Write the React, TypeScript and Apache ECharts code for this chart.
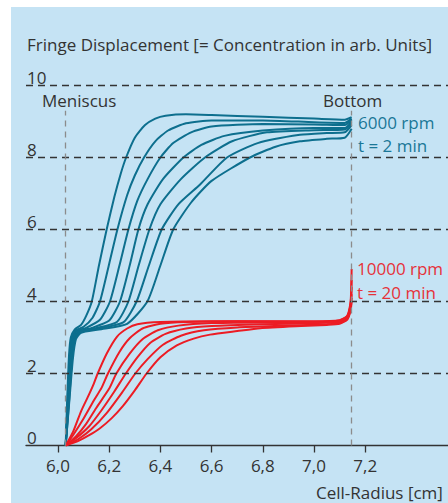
import React, { useEffect, useRef } from "react";
import * as echarts from "echarts";

const xTicks = [6.0, 6.2, 6.4, 6.6, 6.8, 7.0, 7.2];
const yGridValues = [2, 4, 6, 8, 10];
const yLabelValues = [0, 2, 4, 6, 8, 10];
const meniscusX = 6.027;
const bottomX = 7.147;
const markerTop = 9.3;

const teal1 = [[6.03,0],[6.036,1.3],[6.043,2.5],[6.05,3.0],[6.065,3.22],[6.09,3.35],[6.11,3.6],[6.132,4.0],[6.16,5.0],[6.19,6.0],[6.22,6.9],[6.245,7.55],[6.266,8.0],[6.3,8.55],[6.34,8.9],[6.38,9.08],[6.42,9.16],[6.5,9.2],[6.6,9.18],[6.8,9.13],[7.0,9.08],[7.12,9.05],[7.147,9.12]];
const teal2 = [[6.03,0],[6.038,1.3],[6.046,2.5],[6.054,3.0],[6.07,3.2],[6.1,3.3],[6.135,3.55],[6.164,4.0],[6.2,5.05],[6.232,6.0],[6.27,6.95],[6.3,7.5],[6.336,8.0],[6.38,8.45],[6.43,8.75],[6.5,8.95],[6.6,9.03],[6.8,9.03],[7.0,8.98],[7.12,8.96],[7.147,9.08]];
const teal3 = [[6.03,0],[6.039,1.3],[6.048,2.45],[6.057,2.98],[6.075,3.19],[6.11,3.27],[6.165,3.5],[6.203,4.0],[6.24,5.0],[6.275,6.0],[6.31,6.8],[6.35,7.4],[6.40,8.0],[6.45,8.4],[6.52,8.7],[6.6,8.86],[6.8,8.93],[7.0,8.92],[7.12,8.9],[7.147,9.05]];
const teal4 = [[6.03,0],[6.041,1.3],[6.05,2.45],[6.06,2.97],[6.08,3.17],[6.13,3.26],[6.2,3.47],[6.242,4.0],[6.28,5.0],[6.314,6.0],[6.35,6.7],[6.41,7.4],[6.49,8.0],[6.56,8.35],[6.65,8.6],[6.8,8.75],[7.0,8.82],[7.12,8.82],[7.147,9.0]];
const teal5 = [[6.03,0],[6.042,1.3],[6.052,2.42],[6.063,2.96],[6.082,3.16],[6.14,3.25],[6.23,3.43],[6.275,4.0],[6.315,5.0],[6.357,6.0],[6.4,6.7],[6.48,7.4],[6.574,8.0],[6.68,8.45],[6.816,8.7],[7.0,8.76],[7.12,8.78],[7.147,8.95]];
const teal6 = [[6.03,0],[6.044,1.3],[6.055,2.4],[6.066,2.95],[6.085,3.15],[6.15,3.24],[6.255,3.42],[6.307,4.0],[6.355,5.0],[6.405,6.0],[6.47,6.7],[6.555,7.25],[6.66,8.0],[6.78,8.4],[6.945,8.63],[7.05,8.68],[7.12,8.7],[7.147,8.9]];
const teal7 = [[6.03,0],[6.045,1.3],[6.058,2.4],[6.07,2.95],[6.09,3.13],[6.16,3.22],[6.27,3.38],[6.349,4.0],[6.4,5.0],[6.45,6.0],[6.52,6.75],[6.6,7.35],[6.75,8.0],[6.85,8.3],[6.945,8.45],[7.05,8.52],[7.12,8.55],[7.147,8.8]];

const red1 = [[6.03,0],[6.06,0.4],[6.09,0.95],[6.12,1.4],[6.14,1.72],[6.155,2.0],[6.19,2.55],[6.23,3.02],[6.27,3.25],[6.31,3.37],[6.4,3.43],[6.6,3.45],[6.8,3.45],[7.0,3.45],[7.1,3.48],[7.13,3.6],[7.143,4.0],[7.147,4.9]];
const red2 = [[6.03,0],[6.06,0.3],[6.1,0.75],[6.14,1.25],[6.17,1.6],[6.195,2.0],[6.24,2.6],[6.28,2.98],[6.33,3.25],[6.4,3.38],[6.5,3.43],[6.7,3.45],[7.0,3.44],[7.1,3.47],[7.13,3.6],[7.143,3.95],[7.147,4.6]];
const red3 = [[6.03,0],[6.07,0.25],[6.11,0.6],[6.15,1.05],[6.2,1.58],[6.228,2.0],[6.28,2.55],[6.33,2.95],[6.39,3.2],[6.47,3.33],[6.6,3.4],[6.8,3.42],[7.0,3.42],[7.1,3.45],[7.13,3.58],[7.143,3.9],[7.147,4.4]];
const red4 = [[6.03,0],[6.07,0.2],[6.12,0.52],[6.17,0.98],[6.22,1.5],[6.265,2.0],[6.31,2.45],[6.36,2.85],[6.42,3.1],[6.5,3.25],[6.6,3.32],[6.8,3.37],[7.0,3.4],[7.1,3.43],[7.13,3.55],[7.143,3.85],[7.147,4.2]];
const red5 = [[6.03,0],[6.08,0.18],[6.13,0.45],[6.19,0.9],[6.25,1.47],[6.302,2.0],[6.35,2.4],[6.41,2.8],[6.48,3.05],[6.57,3.2],[6.7,3.28],[6.9,3.33],[7.05,3.37],[7.1,3.4],[7.13,3.52],[7.143,3.8],[7.147,4.1]];
const red6 = [[6.03,0],[6.08,0.13],[6.12,0.28],[6.164,0.48],[6.21,0.76],[6.254,1.1],[6.3,1.53],[6.346,2.0],[6.4,2.45],[6.464,2.78],[6.53,2.97],[6.594,3.08],[6.7,3.18],[6.79,3.26],[6.95,3.32],[7.05,3.35],[7.1,3.38],[7.13,3.5],[7.143,3.75],[7.147,4.0]];

const tealCurves = [teal1, teal2, teal3, teal4, teal5, teal6, teal7];
const redCurves = [red1, red2, red3, red4, red5, red6];

const TEAL = "#0d6f8e";
const RED = "#ec1c24";
const TEXT = "#333333";
const FONT = "'Open Sans', sans-serif";
const FS = 17;

export default function App() {
  const ref = useRef<HTMLDivElement>(null);
  useEffect(() => {
    if (!ref.current) return;
    const chart = echarts.init(ref.current, null, { renderer: "svg" });
    const txt = (text: string, x: number, y: number, fill: string, size = FS) => ({
      type: "text",
      x,
      y,
      z: 10,
      style: { text, fill, fontSize: size, fontFamily: FONT, verticalAlign: "middle", textVerticalAlign: "middle" },
    });
    const lineSeries = (data: number[][], color: string) => ({
      type: "line",
      data,
      showSymbol: false,
      symbol: "none",
      smooth: 0.2,
      lineStyle: { color, width: 2 },
      z: 3,
      silent: true,
    });
    const option: any = {
      animation: false,
      backgroundColor: "#ffffff",
      grid: { left: 26, right: 0, top: 67.5, bottom: 57.5 },
      xAxis: {
        type: "value",
        min: 5.875,
        max: 7.5234,
        axisLine: { show: true, lineStyle: { color: TEXT, width: 1.3 } },
        axisTick: { show: true, customValues: xTicks, length: 7, lineStyle: { color: TEXT, width: 1.3 } },
        axisLabel: {
          customValues: xTicks,
          formatter: (v: number) => v.toFixed(1).replace(".", ","),
          fontSize: FS,
          fontFamily: FONT,
          color: TEXT,
          margin: 11,
        },
        splitLine: { show: false },
      },
      yAxis: {
        type: "value",
        min: 0,
        max: 10.5,
        axisLine: { show: false },
        axisTick: { show: false },
        splitLine: { show: false },
        axisLabel: {
          customValues: yLabelValues,
          inside: true,
          margin: 1,
          verticalAlign: "bottom",
          align: "left",
          fontSize: FS,
          fontFamily: FONT,
          color: TEXT,
        },
      },
      graphic: [
        { type: "rect", z: -100, shape: { x: 11, y: 7, width: 437, height: 496 }, style: { fill: "#c5e3f4" } },
        txt("Fringe Displacement [= Concentration in arb. Units]", 27, 44, TEXT),
        txt("Meniscus", 42, 100, TEXT),
        txt("Bottom", 323, 100, TEXT),
        txt("6000 rpm", 358, 122, "#1a7797"),
        txt("t = 2 min", 358, 145, "#1a7797"),
        txt("10000 rpm", 357, 268, "#e5323a"),
        txt("t = 20 min", 357, 292, "#e5323a"),
        txt("Cell-Radius [cm]", 316, 492, TEXT),
      ],
      series: [
        {
          type: "line",
          data: [],
          z: 1,
          silent: true,
          markLine: {
            silent: true,
            symbol: ["none", "none"],
            label: { show: false },
            lineStyle: { color: "#333333", type: [7, 5], width: 1.3 },
            data: [
              ...yGridValues.map((v) => ({ yAxis: v })),
              [
                { coord: [meniscusX, 0], lineStyle: { color: "#8c8c8c", type: [6, 5], width: 1.3 } },
                { coord: [meniscusX, markerTop] },
              ],
              [
                { coord: [bottomX, 0], lineStyle: { color: "#8c8c8c", type: [6, 5], width: 1.3 } },
                { coord: [bottomX, markerTop] },
              ],
            ],
          },
        },
        ...tealCurves.map((c) => lineSeries(c, TEAL)),
        ...redCurves.map((c) => lineSeries(c, RED)),
      ],
    };
    chart.setOption(option);
    return () => chart.dispose();
  }, []);
  return (
    <div
      ref={ref}
      style={{ position: "fixed", left: 0, top: 0, width: 448, height: 503 }}
    />
  );
}
